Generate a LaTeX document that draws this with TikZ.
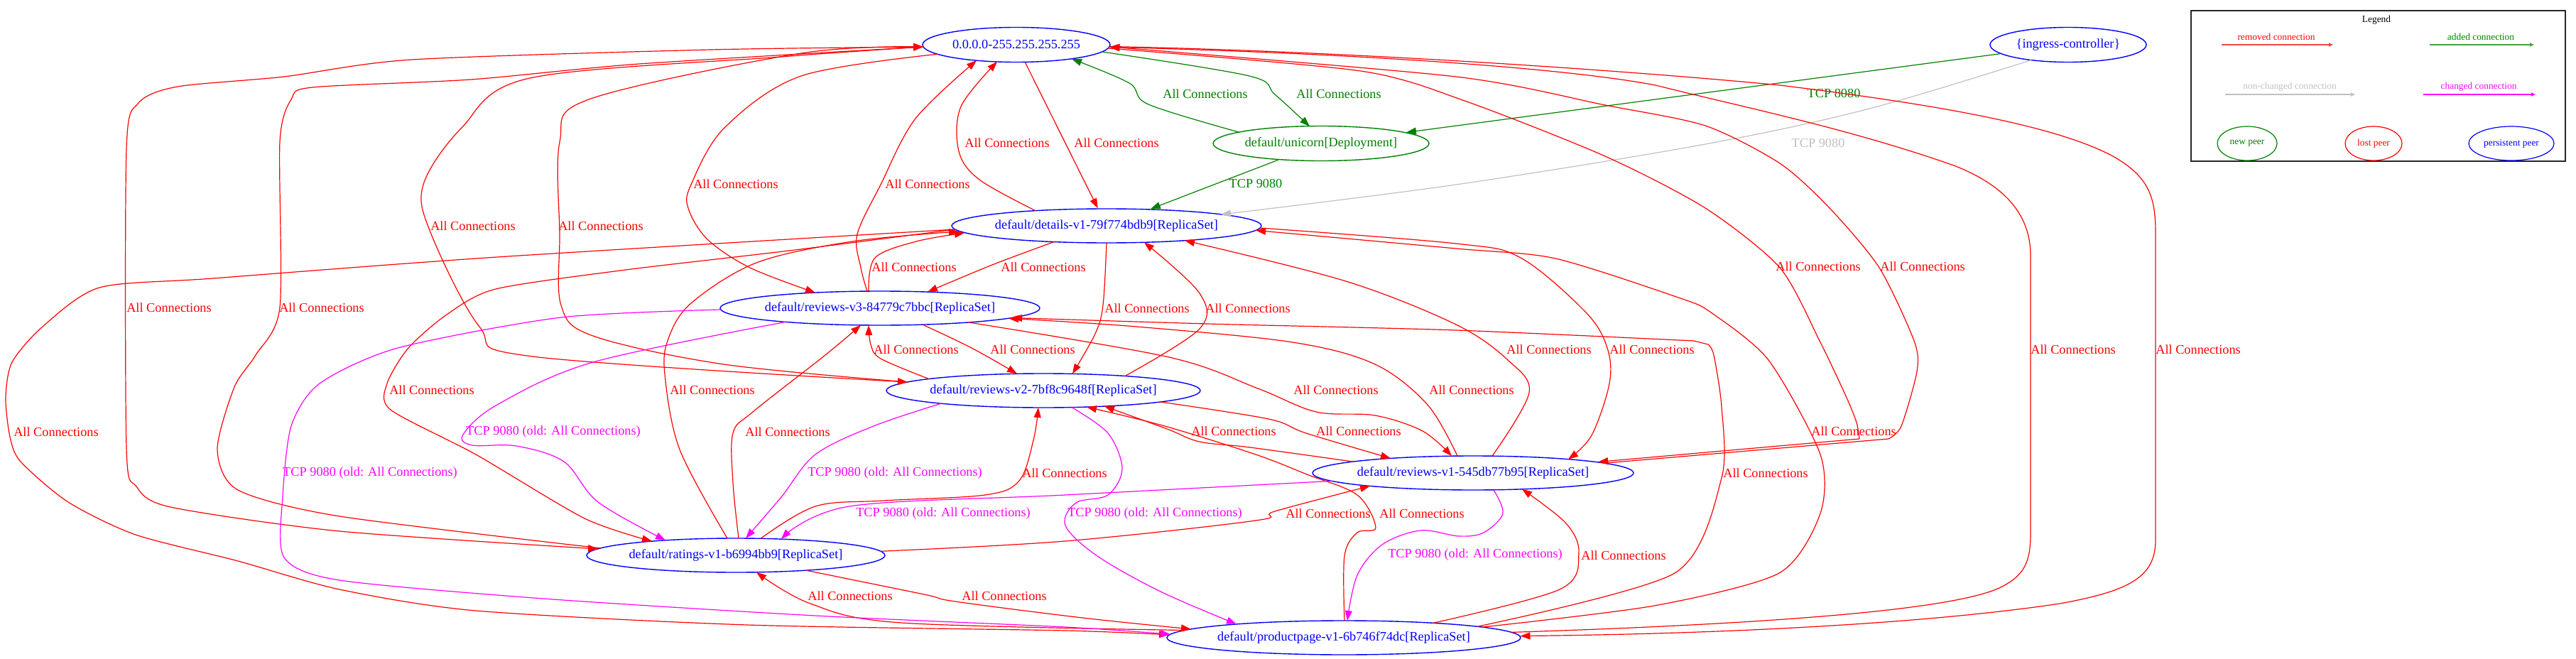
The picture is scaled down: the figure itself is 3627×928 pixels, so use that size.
\documentclass[tikz,border=0pt]{standalone}
\usepackage{fontspec}
\setmainfont{Liberation Serif}
\usetikzlibrary{shapes.geometric,arrows.meta}
\definecolor{gvred}{RGB}{255,0,0}
\definecolor{gvgreen}{RGB}{0,128,0}
\definecolor{gvblue}{RGB}{0,0,255}
\definecolor{gvmag}{RGB}{255,0,255}
\definecolor{gvgray}{RGB}{192,192,192}
\newcommand{\bigf}{\fontsize{18.3}{20}\selectfont}
\newcommand{\smallf}{\fontsize{13.4}{15}\selectfont}
\tikzset{
 peer/.style={ellipse, draw=gvblue, line width=1.4pt, inner sep=0pt, minimum height=48pt},
 newpeer/.style={peer, draw=gvgreen},
 ptext/.style={text=gvblue, inner sep=0pt, font=\bigf},
 ntext/.style={text=gvgreen, inner sep=0pt, font=\bigf},
 edgebase/.style={line width=1.2pt, -{Triangle[length=14pt,width=10pt]}},
 rem/.style={edgebase, draw=gvred},
 add/.style={edgebase, draw=gvgreen},
 chg/.style={edgebase, draw=gvmag},
 same/.style={edgebase, draw=gvgray},
 lab/.style={text=gvred, inner sep=0pt, font=\bigf},
 glab/.style={text=gvgreen, inner sep=0pt, font=\bigf},
 mlab/.style={text=gvmag, inner sep=0pt, font=\bigf},
 slab/.style={text=gvgray, inner sep=0pt, font=\bigf},
 legtext/.style={inner sep=0pt, font=\smallf},
 legarrow/.style={line width=2.2pt, -{Triangle[length=6pt,width=5pt]}},
 sm/.style={smooth, tension=0.55},
 lsm/.style={smooth, tension=0.45}
}
\begin{document}
\begin{tikzpicture}[x=1pt,y=-1pt]
\useasboundingbox (0,0) rectangle (3627,928);
% ---------- nodes ----------
\node[peer, minimum width=264pt, minimum height=49pt] (z) at (1431,63) {};
\node[ptext] (zt) at (z) {0.0.0.0-255.255.255.255};
\node[peer, minimum width=220pt, minimum height=49pt] (ing) at (2912,63) {};
\node[ptext] (ingt) at (ing) {\{ingress-controller\}};
\node[newpeer, minimum width=304pt, minimum height=49pt] (uni) at (1860,202) {};
\node[ntext] (unit) at (uni) {default/unicorn[Deployment]};
\node[peer, minimum width=436pt] (det) at (1558,318) {};
\node[ptext] (dett) at (det) {default/details-v1-79f774bdb9[ReplicaSet]};
\node[peer, minimum width=450pt] (rv3) at (1239,434) {};
\node[ptext] (rv3t) at (rv3) {default/reviews-v3-84779c7bbc[ReplicaSet]};
\node[peer, minimum width=442pt] (rv2) at (1469,550) {};
\node[ptext] (rv2t) at (rv2) {default/reviews-v2-7bf8c9648f[ReplicaSet]};
\node[peer, minimum width=452pt] (rv1) at (2074,666) {};
\node[ptext] (rv1t) at (rv1) {default/reviews-v1-545db77b95[ReplicaSet]};
\node[peer, minimum width=420pt] (rat) at (1036,782) {};
\node[ptext] (ratt) at (rat) {default/ratings-v1-b6994bb9[ReplicaSet]};
\node[peer, minimum width=498pt] (pp) at (1892,898) {};
\node[ptext] (ppt) at (pp) {default/productpage-v1-6b746f74dc[ReplicaSet]};

% ---------- green / gray ----------
\draw[add] plot[sm] coordinates {([shift={(-116,-16)}]uni) (1617,147) (1590,117) ([shift={(78,20)}]z)};
\draw[add] plot[sm] coordinates {([shift={(121,10)}]z) (1759,107) (1795,133) ([shift={(-16,-24)}]uni)};
\draw[add] ([shift={(-58,22.6)}]uni) -- ([shift={(59,-23.1)}]det);
\draw[add] ([shift={(-90,14)}]ing) -- ([shift={(114,-16)}]uni);
\draw[same] plot[sm] coordinates {([shift={(-52,21.6)}]ing) (2632,153) (2401,203) (2050,260) ([shift={(161,-16)}]det)};
\node[glab] (g1) at (1697,132) {All Connections};
\node[glab] (g2) at (1885,132) {All Connections};
\node[glab] (g3) at (1768,259) {TCP 9080};
\node[glab] (g4) at (2582,132) {TCP 8080};
\node[slab] (s1) at (2560,202) {TCP 9080};

% ---------- red ----------
\draw[rem] plot[sm] coordinates {([shift={(-100,-21.3)}]det) (1379,253) (1350,213) (1353,150) ([shift={(-27,24)}]z)};
\draw[rem] ([shift={(12,24.3)}]z) -- ([shift={(-13,-24)}]det);
\draw[rem] plot[sm] coordinates {([shift={(-18,-23.9)}]rv3) (1212,377) (1207,330) (1240,260) (1289,167) ([shift={(-56,22.2)}]z)};
\draw[rem] plot[sm] coordinates {([shift={(-111,13.3)}]z) (1128,107) (1020,180) (973,260) (969,293) (996,337) (1056,377) ([shift={(-91,-21.9)}]rv3)};
\draw[rem] plot[sm] coordinates {([shift={(-131,3)}]z) (1100,80) (746,110) (650,180) (596,260) (606,327) (675,460) (750,502) ([shift={(-191,-12)}]rv2)};
\draw[rem] plot[sm] coordinates {([shift={(-191,-12)}]rv2) (1019,513) (835,473) (790,430) (788,330) (788,200) (829,140) (1128,75) ([shift={(-131,3)}]z)};
\draw[rem] plot[lsm] coordinates {([shift={(-131,3)}]z) (1000,70) (580,84) (400,108) (250,122) (195,145) (178,210) (178,630) (192,685) (240,714) (478,748) ([shift={(-194,-9)}]rat)};
\draw[rem] plot[lsm] coordinates {([shift={(-190,-10)}]rat) (478,727) (335,690) (306,633) (330,545) (360,500) (394,433) (394,200) (410,140) (440,123) (663,112) (900,90) ([shift={(-131,3)}]z)};
\draw[rem] plot[sm] coordinates {([shift={(-16,-24)}]rv3) (1232,363) (1290,340) ([shift={(-200,10)}]det)};
\draw[rem] plot[sm] coordinates {([shift={(-74,22.6)}]det) (1397,373) ([shift={(67,-22.9)}]rv3)};
\draw[rem] plot[sm] coordinates {([shift={(0,24)}]det) (1553,430) (1542,470) ([shift={(41,-23.6)}]rv2)};
\draw[rem] plot[sm] coordinates {([shift={(115,-20.5)}]rv2) (1689,463) (1689,413) ([shift={(53,23.3)}]det)};
\draw[rem] plot[sm] coordinates {([shift={(-161,-16.4)}]rv2) (1240,505) (1226,485) ([shift={(-16,24)}]rv3)};
\draw[rem] plot[sm] coordinates {([shift={(60,23.1)}]rv3) (1368,490) ([shift={(-37,-23.7)}]rv2)};
\draw[rem] plot[lsm] coordinates {([shift={(-213,5)}]det) (1111,353) (881,380) (698,407) (629,443) (575,490) (545,540) (550,577) (670,640) (823,730) ([shift={(-118,-19.9)}]rat)};
\draw[rem] plot[sm] coordinates {([shift={(-12,-24)}]rat) (957,633) (936,527) (941,477) (973,427) (1065,370) (1200,340) ([shift={(-208,8)}]det)};
\draw[rem] plot[lsm] coordinates {([shift={(-213,5)}]det) (700,362) (300,392) (140,405) (60,460) (17,510) (8,560) (14,615) (29,650) (96,707) (191,753) (335,790) (478,830) (670,860) (1052,880) (1500,888) ([shift={(-246,-4)}]pp)};
\draw[rem] plot[sm] coordinates {([shift={(4,-24)}]rat) (1032,680) (1032,610) (1060,580) (1162,500) ([shift={(-27,23.8)}]rv3)};
\draw[rem] plot[sm] coordinates {([shift={(35,-23.7)}]rat) (1148,713) (1244,705) (1387,697) (1435,677) (1455,620) ([shift={(-7,24)}]rv2)};
\draw[rem] plot[sm] coordinates {([shift={(-169,-15.9)}]rv1) (1760,630) (1689,622) (1643,604) ([shift={(86,22.1)}]rv2)};
\draw[rem] plot[sm] coordinates {([shift={(165,16)}]rv2) (1786,590) (1839,610) ([shift={(-116,-20.6)}]rv1)};
\draw[rem] plot[sm] coordinates {([shift={(125,20)}]rv3) (1646,503) (1771,547) (1853,580) (1936,585) (2003,607) ([shift={(-30,-23.8)}]rv1)};
\draw[rem] plot[sm] coordinates {([shift={(-22,-23.9)}]rv1) (2010,570) (1936,513) (1820,482) (1600,460) ([shift={(181,14.3)}]rv3)};
\draw[rem] plot[sm] coordinates {([shift={(27,-23.8)}]rv1) (2153,553) (2123,507) (2050,457) (1895,396) ([shift={(110,20.7)}]det)};
\draw[rem] plot[sm] coordinates {([shift={(216,3)}]det) (2050,343) (2141,363) (2233,440) (2263,490) (2266,540) (2241,613) ([shift={(134,-19.3)}]rv1)};
% Z <-> V1
\draw[rem] plot[lsm] coordinates {([shift={(129,5)}]z) (1916,100) (2065,143) (2260,220) (2401,293) (2506,377) (2562,480) (2600,560) (2614,595) (2618,618)} -- ([shift={(185,-13.8)}]rv1);
\draw[rem] ([shift={(185,-13.8)}]rv1) -- plot[lsm] coordinates {(2659,618) (2677,600) (2699,523) (2695,480) (2646,377) (2576,293) (2506,230) (2401,177) (2260,148) (2050,108) ([shift={(131,3)}]z)};
% Z <-> P
\draw[rem] ([shift={(246,-4)}]pp) .. controls (2450,880) and (2740,862) .. (2815,828)
  .. controls (2852,810) and (2859,790) .. (2859,750) -- (2859,360)
  .. controls (2859,300) and (2820,260) .. (2751,233)
  .. controls (2600,180) and (2450,150) .. (2331,120)
  .. controls (2200,95) and (1900,75) .. ([shift={(131,3)}]z);
\draw[rem] ([shift={(131,3)}]z) .. controls (1900,72) and (2300,100) .. (2506,120)
  .. controls (2750,150) and (2900,180) .. (2975,220)
  .. controls (3028,250) and (3035,280) .. (3035,330) -- (3035,760)
  .. controls (3035,812) and (3000,832) .. (2900,850)
  .. controls (2700,880) and (2400,893) .. ([shift={(246,-1)}]pp);
% P -> D, P -> V3
\draw[rem] plot[lsm] coordinates {([shift={(195,-14.9)}]pp) (2329,853) (2505,807) (2563,723) (2563,640) (2490,507) (2409,440) (2366,420) (2190,364) (2050,350) ([shift={(210,6.4)}]det)};
\draw[rem] plot[lsm] coordinates {([shift={(188,-15.7)}]pp) (2358,807) (2424,673) (2424,573) (2413,500) (2405,485)} -- plot[lsm] coordinates {(2385,480) (2050,465) (1700,456) ([shift={(186,13.5)}]rv3)};
\draw[rem] plot[sm] coordinates {([shift={(1,-24)}]pp) (1893,783) (1911,750) (1937,743) (1911,697) (1840,668) (1768,640) (1640,600) ([shift={(61,23.1)}]rv2)};
\draw[rem] plot[sm] coordinates {([shift={(204,-5.7)}]rat) (1500,762) (1768,733) (1795,720) ([shift={(-145,18.4)}]rv1)};
\draw[rem] plot[sm] coordinates {([shift={(126,-20.7)}]pp) (2196,830) (2223,780) (2205,737) ([shift={(69,22.8)}]rv1)};
\draw[rem] plot[sm] coordinates {([shift={(-224,-10.5)}]pp) (1269,877) (1141,850) ([shift={(29,23.8)}]rat)};
\draw[rem] plot[sm] coordinates {([shift={(99,21.2)}]rat) (1301,837) (1345,847) (1524,870) ([shift={(-215,-12.1)}]pp)};

% ---------- magenta ----------
\draw[chg] plot[sm] coordinates {([shift={(-133,19.4)}]rv3) (835,510) (700,570) (652,612) (665,627) (727,628) (794,650) (842,707) ([shift={(-99,-21.2)}]rat)};
\draw[chg] plot[lsm] coordinates {([shift={(-224,2)}]rv3) (790,447) (560,490) (450,540) (410,600) (398,700) (400,785) (478,817) (765,843) (1148,867) (1500,883) ([shift={(-244,-4.8)}]pp)};
\draw[chg] plot[sm] coordinates {([shift={(-144,18.2)}]rv2) (1230,600) (1148,640) (1100,700) ([shift={(14,-24)}]rat)};
\draw[chg] plot[sm] coordinates {([shift={(40,23.6)}]rv2) (1560,610) (1580,660) (1560,697) (1515,708) (1500,740) (1545,783) (1634,833) ([shift={(-151,-19.1)}]pp)};
\draw[chg] plot[sm] coordinates {([shift={(-199,11.4)}]rv1) (1500,697) (1196,713) ([shift={(64,-22.9)}]rat)};
\draw[chg] plot[sm] coordinates {([shift={(29,23.8)}]rv1) (2116,723) (2089,750) (2054,755) (2000,747) (1946,767) (1911,810) ([shift={(5,-24)}]pp)};

% ---------- labels ----------
\node[lab] (l1) at (1418,201) {All Connections};
\node[lab] (l2) at (1572,201) {All Connections};
\node[lab] (l3) at (1306,259) {All Connections};
\node[lab] (l4) at (1036,259) {All Connections};
\node[lab] (l5) at (666,318) {All Connections};
\node[lab] (l6) at (846,318) {All Connections};
\node[lab] (l7) at (238,433) {All Connections};
\node[lab] (l8) at (453,433) {All Connections};
\node[lab] (l9) at (1287,376) {All Connections};
\node[lab] (l10) at (1469,376) {All Connections};
\node[lab] (l11) at (1615,434) {All Connections};
\node[lab] (l12) at (1757,434) {All Connections};
\node[lab] (l13) at (1290,492) {All Connections};
\node[lab] (l14) at (1454,492) {All Connections};
\node[lab] (l15) at (608,549) {All Connections};
\node[lab] (l16) at (1003,549) {All Connections};
\node[lab] (l17) at (79,608) {All Connections};
\node[lab] (l18) at (1109,608) {All Connections};
\node[lab] (l19) at (1499,666) {All Connections};
\node[lab] (l20) at (1737,607) {All Connections};
\node[lab] (l21) at (1913,607) {All Connections};
\node[lab] (l22) at (1881,549) {All Connections};
\node[lab] (l23) at (2072,549) {All Connections};
\node[lab] (l24) at (2181,492) {All Connections};
\node[lab] (l25) at (2326,492) {All Connections};
\node[lab] (l26) at (2560,375) {All Connections};
\node[lab] (l27) at (2707,375) {All Connections};
\node[lab] (l28) at (2919,492) {All Connections};
\node[lab] (l29) at (3095,492) {All Connections};
\node[lab] (l30) at (2610,607) {All Connections};
\node[lab] (l31) at (2486,666) {All Connections};
\node[lab] (l32) at (2002,723) {All Connections};
\node[lab] (l33) at (1870,723) {All Connections};
\node[lab] (l34) at (2286,782) {All Connections};
\node[lab] (l35) at (1197,839) {All Connections};
\node[lab] (l36) at (1414,839) {All Connections};
\node[mlab] (m1) at (779,608) {TCP 9080 (old: All Connections)};
\node[mlab] (m2) at (521,666) {TCP 9080 (old: All Connections)};
\node[mlab] (m3) at (1260,666) {TCP 9080 (old: All Connections)};
\node[mlab] (m4) at (1626,723) {TCP 9080 (old: All Connections)};
\node[mlab] (m5) at (1328,723) {TCP 9080 (old: All Connections)};
\node[mlab] (m6) at (2077,781) {TCP 9080 (old: All Connections)};

% ---------- legend ----------
\node[draw=black!85, line width=1.6pt, minimum width=527pt, minimum height=212pt, inner sep=0pt] (leg) at (3348.5,121) {};
\node[legtext, text=black] (legt) at (3346,28) {Legend};
\node[legtext, text=gvred] (lrt) at (3205,52) {removed connection};
\coordinate (lr1) at (3128,63); \coordinate (lr2) at (3285,63);
\draw[legarrow, draw={rgb,255:red,240;green,70;blue,70}] (lr1) -- (lr2);
\node[legtext, text=gvgreen] (lat) at (3493,52) {added connection};
\coordinate (la1) at (3421,63); \coordinate (la2) at (3568,63);
\draw[legarrow, draw={rgb,255:red,70;green,160;blue,70}] (la1) -- (la2);
\node[legtext, text=gvgray] (lnt) at (3224,122) {non-changed connection};
\coordinate (ln1) at (3133,133); \coordinate (ln2) at (3316,133);
\draw[legarrow, draw=gvgray] (ln1) -- (ln2);
\node[legtext, text=gvmag] (lct) at (3490,122) {changed connection};
\coordinate (lc1) at (3412,133); \coordinate (lc2) at (3570,133);
\draw[legarrow, draw=gvmag] (lc1) -- (lc2);
\node[ellipse, draw=gvgreen, line width=1.2pt, minimum width=84pt, minimum height=48pt, inner sep=0pt] (lnew) at (3164,202) {};
\node[legtext, text=gvgreen] (lnewt) at (lnew) {new peer};
\node[ellipse, draw=gvred, line width=1.2pt, minimum width=80pt, minimum height=48pt, inner sep=0pt] (llost) at (3342,202) {};
\node[legtext, text=gvred] (llostt) at (llost) {lost peer};
\node[ellipse, draw=gvblue, line width=1.2pt, minimum width=120pt, minimum height=48pt, inner sep=0pt] (lper) at (3536,202) {};
\node[legtext, text=gvblue] (lpert) at (lper) {persistent peer};
\end{tikzpicture}
\end{document}
